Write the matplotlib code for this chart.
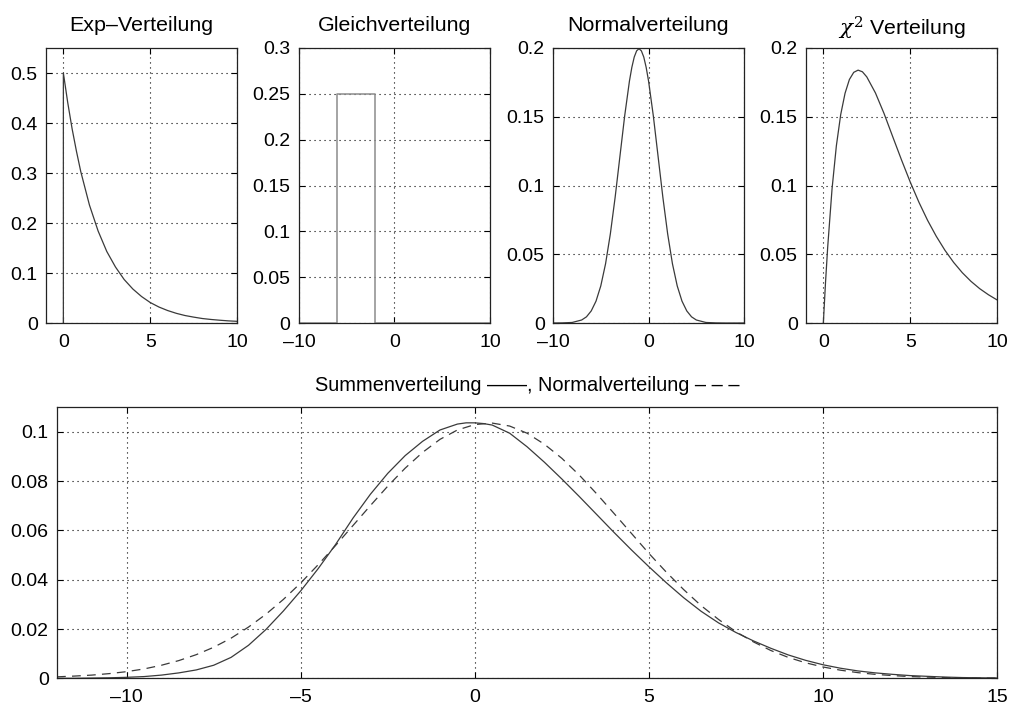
import matplotlib
matplotlib.use('Agg')
import matplotlib.pyplot as plt
from matplotlib.ticker import FuncFormatter

# values
exp_x = [0, 0, 0.25, 0.5, 0.75, 1, 1.5, 2, 2.5, 3, 3.5, 4, 4.5, 5, 5.5, 6, 6.5, 7, 7.5, 8,
         8.5, 9, 9.5, 10]
exp_y = [0, 0.5, 0.441, 0.389, 0.344, 0.303, 0.236, 0.184, 0.143, 0.112, 0.087, 0.068,
         0.053, 0.041, 0.032, 0.025, 0.0194, 0.015, 0.0118, 0.009, 0.0071, 0.0056, 0.0043,
         0.0034]

uni_x = [-10, -6, -6, -2, -2, 10]
uni_y = [0, 0, 0.25, 0.25, 0, 0]

norm_x = [-10, -9, -8, -7, -6.5, -6, -5.5, -5, -4.5, -4, -3.5, -3, -2.5, -2, -1.75, -1.5,
          -1.25, -1, -0.75, -0.5, -0.25, 0, 0.5, 1, 1.5, 2, 2.5, 3, 3.5, 4, 4.5, 5, 6, 7,
          8, 10]
norm_y = [0, 0.0001, 0.0004, 0.0022, 0.0045, 0.0088, 0.0159, 0.027, 0.0431, 0.0648, 0.0913,
          0.121, 0.1506, 0.176, 0.1859, 0.1934, 0.1979, 0.1995, 0.1979, 0.1934, 0.1859,
          0.176, 0.1506, 0.121, 0.0913, 0.0648, 0.0431, 0.027, 0.0159, 0.0088, 0.0045,
          0.0022, 0.0004, 0.0001, 0, 0]

chi_x = [0, 0.125, 0.25, 0.5, 0.75, 1, 1.25, 1.5, 1.75, 2, 2.25, 2.5, 3, 3.5, 4, 4.5, 5,
         5.5, 6, 6.5, 7, 7.5, 8, 8.5, 9, 9.5, 10]
chi_y = [0, 0.0294, 0.0551, 0.0974, 0.1289, 0.1516, 0.1671, 0.1771, 0.1823, 0.1839, 0.1827,
         0.179, 0.1673, 0.1522, 0.1353, 0.1186, 0.1026, 0.0879, 0.0747, 0.0631, 0.0529,
         0.0441, 0.0366, 0.0303, 0.025, 0.0206, 0.0168]

sum_x = [-12, -11.5, -11, -10.5, -10, -9.5, -9, -8.5, -8, -7.5, -7, -6.5, -6, -5.5, -5, -4.5,
         -4, -3.5, -3, -2.5, -2, -1.5, -1, -0.5, -0.25, 0, 0.25, 0.5, 1, 1.5, 2, 2.5, 3,
         3.5, 4, 4.5, 5, 5.5, 6, 6.5, 7, 7.5, 8, 8.5, 9, 9.5, 10, 10.5, 11, 11.5, 12, 12.5,
         13, 13.5, 14, 14.5, 15]
sum_y = [0.0, 0.0, 0.0001, 0.0002, 0.0004, 0.0007, 0.0013, 0.0022, 0.0034, 0.0053, 0.0085,
         0.0134, 0.0198, 0.0273, 0.0355, 0.0445, 0.0543, 0.065, 0.0747, 0.0832, 0.0904,
         0.0962, 0.1008, 0.1032, 0.1037, 0.1037, 0.1034, 0.1028, 0.0995, 0.094, 0.0877,
         0.0809, 0.0738, 0.0665, 0.0592, 0.0521, 0.0453, 0.0388, 0.0327, 0.0272, 0.0225,
         0.0186, 0.0152, 0.0122, 0.0095, 0.0073, 0.0055, 0.0041, 0.003, 0.0022, 0.0016,
         0.0011, 0.0008, 0.0005, 0.0003, 0.0002, 0.0001]

gauss_x = [-12, -11.5, -11, -10.5, -10, -9.5, -9, -8.5, -8, -7.5, -7, -6.5, -6, -5.5, -5,
           -4.5, -4, -3.5, -3, -2.5, -2, -1.5, -1, -0.5, 0, 0.5, 1, 1.5, 2, 2.5, 3, 3.5, 4,
           4.5, 5, 5.5, 6, 6.5, 7, 7.5, 8, 8.5, 9, 9.5, 10, 10.5, 11, 11.5, 12, 12.5, 13,
           13.5, 14, 14.5, 15]
gauss_y = [0.0006, 0.0009, 0.0013, 0.0019, 0.0027, 0.0038, 0.0053, 0.0072, 0.0096, 0.0126,
           0.0163, 0.0208, 0.026, 0.032, 0.0387, 0.0461, 0.0539, 0.062, 0.0701, 0.078,
           0.0853, 0.0917, 0.097, 0.1008, 0.103, 0.1036, 0.1024, 0.0995, 0.095, 0.0893,
           0.0825, 0.0749, 0.0669, 0.0588, 0.0507, 0.0431, 0.036, 0.0295, 0.0239, 0.0189,
           0.0148, 0.0113, 0.0085, 0.0063, 0.0046, 0.0033, 0.0023, 0.0016, 0.0011, 0.0007,
           0.0005, 0.0003, 0.0002, 0.0001, 0.0001]

plt.rcParams['font.family'] = ['Liberation Sans', 'DejaVu Sans']
plt.rcParams['font.size'] = 14
plt.rcParams['mathtext.fontset'] = 'dejavuserif'

fig = plt.figure(figsize=(10.11, 7.09), dpi=100)

top_w = 0.189
top_b = 0.5444
top_h = 0.3879
top_lefts = [0.0455, 0.2957, 0.547, 0.7972]

fmt = FuncFormatter(lambda v, p: ('%g' % v).replace('-', '\u2013'))


def style(ax, xlim, ylim, xticks, yticks):
    ax.set_xlim(xlim)
    ax.set_ylim(ylim)
    ax.set_xticks(xticks)
    ax.set_yticks(yticks)
    ax.yaxis.set_major_formatter(fmt)
    ax.xaxis.set_major_formatter(fmt)
    ax.tick_params(direction='in', length=4, width=0.8, top=True, right=True)
    ax.tick_params(axis='y', pad=6)
    ax.tick_params(axis='x', pad=8)
    ax.grid(True, color='black', linestyle=(0, (1, 3.5)), linewidth=0.8)
    for s in ax.spines.values():
        s.set_linewidth(0.9)
        s.set_color('#222222')


ax1 = fig.add_axes([top_lefts[0], top_b, top_w, top_h])
ax1.plot(exp_x, exp_y, color='#3a3a3a', lw=0.9)
style(ax1, (-1, 10), (0, 0.55), [0, 5, 10], [0, 0.1, 0.2, 0.3, 0.4, 0.5])
ax1.set_title('Exp\u2013Verteilung', fontsize=15.4, pad=12)

ax2 = fig.add_axes([top_lefts[1], top_b, top_w, top_h])
ax2.plot(uni_x, uni_y, color='#8c8c8c', lw=1.1)
style(ax2, (-10, 10), (0, 0.3), [-10, 0, 10], [0, 0.05, 0.1, 0.15, 0.2, 0.25, 0.3])
ax2.set_title('Gleichverteilung', fontsize=15.4, pad=12)

ax3 = fig.add_axes([top_lefts[2], top_b, top_w, top_h])
ax3.plot(norm_x, norm_y, color='#3a3a3a', lw=0.9)
style(ax3, (-10, 10), (0, 0.2), [-10, 0, 10], [0, 0.05, 0.1, 0.15, 0.2])
ax3.set_title('Normalverteilung', fontsize=15.4, pad=12)

ax4 = fig.add_axes([top_lefts[3], top_b, top_w, top_h])
ax4.plot(chi_x, chi_y, color='#3a3a3a', lw=0.9)
style(ax4, (-1, 10), (0, 0.2), [0, 5, 10], [0, 0.05, 0.1, 0.15, 0.2])
ax4.set_title(r'$\chi^2$ Verteilung', fontsize=15.4, pad=9)

ax5 = fig.add_axes([0.0564, 0.0433, 0.9298, 0.3822])
ax5.plot(sum_x, sum_y, color='#3a3a3a', lw=0.9)
ax5.plot(gauss_x, gauss_y, color='#3a3a3a', lw=0.9, linestyle=(0, (7, 5)))
style(ax5, (-12, 15), (0, 0.11), [-10, -5, 0, 5, 10, 15], [0, 0.02, 0.04, 0.06, 0.08, 0.1])
ax5.set_title('Summenverteilung \u2014\u2014, Normalverteilung \u2013 \u2013 \u2013',
              fontsize=14.4, pad=12)

fig.savefig('out.png', dpi=100)
